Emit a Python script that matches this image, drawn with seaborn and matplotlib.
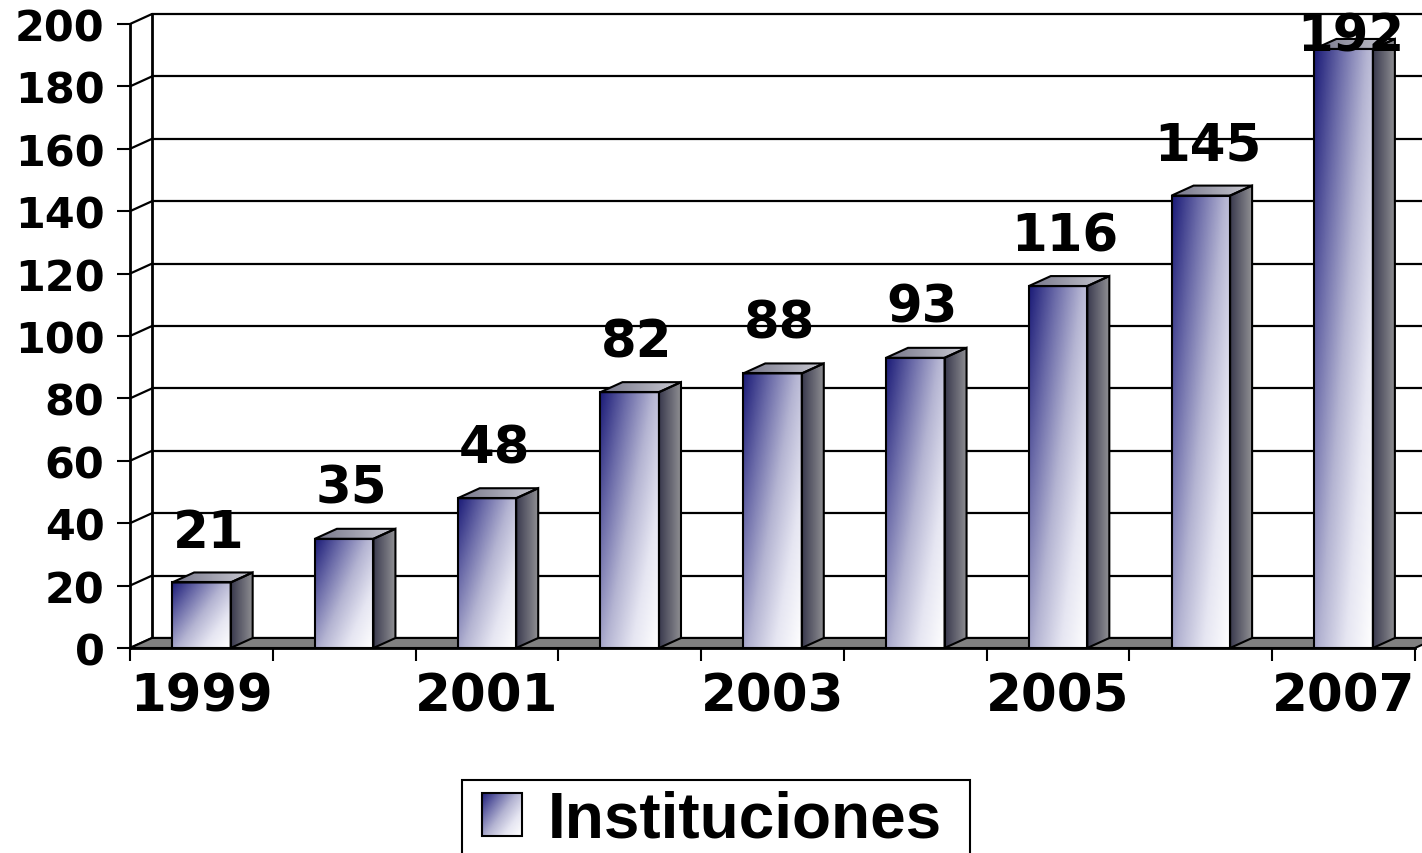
import numpy as np
import seaborn as sns
import matplotlib.pyplot as plt
from matplotlib.colors import LinearSegmentedColormap
from matplotlib.patches import Polygon, Rectangle
from matplotlib.legend_handler import HandlerBase
from matplotlib.image import BboxImage
from matplotlib.transforms import Bbox, TransformedBbox

years = ['1999', '2000', '2001', '2002', '2003', '2004', '2005', '2006', '2007']
values = [21, 35, 48, 82, 88, 93, 116, 145, 192]
shown_years = ['1999', '2001', '2003', '2005', '2007']
yticks = list(range(0, 201, 20))
series_name = 'Instituciones'

sns.set_style("white")
plt.rcParams['font.family'] = ['DejaVu Sans']
plt.rcParams['font.weight'] = 'bold'
plt.rcParams['text.color'] = 'black'
plt.rcParams['xtick.color'] = 'black'
plt.rcParams['ytick.color'] = 'black'
plt.rcParams['axes.edgecolor'] = 'black'

front_cmap = LinearSegmentedColormap.from_list(
    'front', ['#1c1c78', '#6a6aa8', '#b4b4d2', '#e6e6f2', '#ffffff'])
side_cmap = LinearSegmentedColormap.from_list('side', ['#3a3a4e', '#8e8e92'])
top_cmap = LinearSegmentedColormap.from_list('top', ['#76768a', '#cacad2'])

u, v = np.meshgrid(np.linspace(0, 1, 64), np.linspace(1, 0, 128))
front_grad = front_cmap(0.55 * u + 0.45 * (1 - v))
uu = np.linspace(0, 1, 64)[None, :].repeat(8, axis=0)
side_grad = side_cmap(uu)
top_grad = top_cmap(uu)

fig = plt.figure(figsize=(14.22, 8.54), dpi=100)
ax = fig.add_axes([130 / 1422, 205 / 854, 1285 / 1422, 624 / 854])

sns.barplot(x=years, y=values, order=years, width=0.41, ax=ax,
            color='white', edgecolor='black', linewidth=1.5, zorder=3)

ax.set_xlim(-0.5, 8.5)
ax.set_ylim(0, 200)
dx = 22 / (1285 / 9)   # depth offset in data units
dy = 10 / (624 / 200)

# back wall grid, left wall diagonals
for t in yticks:
    ax.plot([-0.5 + dx, 9.5], [t + dy, t + dy], color='black', lw=1.6,
            zorder=1, clip_on=False)
    ax.plot([-0.5, -0.5 + dx], [t, t + dy], color='black', lw=1.6,
            zorder=1, clip_on=False)
ax.plot([-0.5 + dx, -0.5 + dx], [dy, 200 + dy], color='black', lw=2,
        zorder=1, clip_on=False)

# floor
floor = Polygon([(-0.5, 0), (8.5, 0), (8.5 + dx, dy), (-0.5 + dx, dy)],
                closed=True, facecolor='#808080', edgecolor='black', lw=1.5,
                zorder=2, clip_on=False)
ax.add_patch(floor)

# bars with gradient faces
for bar, val in zip(list(ax.patches)[:len(values)], values):
    x0, w, h = bar.get_x(), bar.get_width(), bar.get_height()
    bar.set_facecolor('none')
    bar.set_zorder(5)
    im = ax.imshow(front_grad, extent=(x0, x0 + w, 0, h), aspect='auto',
                   interpolation='bilinear', zorder=4)
    im.set_clip_path(bar)
    side = Polygon([(x0 + w, 0), (x0 + w + dx, dy), (x0 + w + dx, h + dy), (x0 + w, h)],
                   closed=True, facecolor='none', edgecolor='black', lw=1.5, zorder=5)
    ax.add_patch(side)
    ims = ax.imshow(side_grad, extent=(x0 + w, x0 + w + dx, 0, h + dy), aspect='auto',
                    interpolation='bilinear', zorder=4)
    ims.set_clip_path(side)
    top = Polygon([(x0, h), (x0 + w, h), (x0 + w + dx, h + dy), (x0 + dx, h + dy)],
                  closed=True, facecolor='none', edgecolor='black', lw=1.5, zorder=5)
    ax.add_patch(top)
    imt = ax.imshow(top_grad, extent=(x0, x0 + w + dx, h, h + dy), aspect='auto',
                    interpolation='bilinear', zorder=4)
    imt.set_clip_path(top)
    ax.text(x0 + w / 2 + 0.05, min(val + 16, 196), str(val), ha='center', va='center',
            fontsize=37, fontweight='bold', color='black', zorder=6)

ax.set_xlim(-0.5, 8.5)
ax.set_ylim(0, 200)

for side_name in ['top', 'right']:
    ax.spines[side_name].set_visible(False)
ax.spines['left'].set_linewidth(2)
ax.spines['bottom'].set_linewidth(2)
ax.spines['left'].set_zorder(6)

ax.set_yticks(yticks)
ax.set_yticklabels([str(t) for t in yticks], fontsize=31, fontweight='bold')
ax.tick_params(axis='y', direction='out', length=9.4, width=1.5, pad=9, left=True)

ax.set_xticks(range(len(years)))
ax.set_xticklabels([y if y in shown_years else '' for y in years],
                   fontsize=37, fontweight='bold')
ax.tick_params(axis='x', which='major', length=0, pad=17)
ax.set_xticks(np.arange(-0.5, 9, 1), minor=True)
ax.tick_params(axis='x', which='minor', direction='out', length=9.4, width=1.5,
               bottom=True)
ax.set_xlabel('')
ax.set_ylabel('')


class GradientHandler(HandlerBase):
    def create_artists(self, legend, orig_handle, xdescent, ydescent,
                       width, height, fontsize, trans):
        bb = Bbox.from_bounds(-xdescent, -ydescent, width, height)
        img = BboxImage(TransformedBbox(bb, trans), interpolation='bilinear')
        img.set_data(front_grad)
        rect = Rectangle((-xdescent, -ydescent), width, height, facecolor='none',
                         edgecolor='black', lw=1.5, transform=trans)
        return [img, rect]


proxy = Rectangle((0, 0), 1, 1)
leg = fig.legend(handles=[proxy], labels=[series_name],
                 handler_map={proxy: GradientHandler()},
                 loc='upper center', bbox_to_anchor=(712 / 1422, 1 - 791 / 854),
                 prop={'family': 'Liberation Sans', 'weight': 'bold', 'size': 46},
                 frameon=False, borderpad=0, handlelength=0.62, handleheight=0.66,
                 handletextpad=0.4, borderaxespad=0)
for txt in leg.get_texts():
    txt.set_color('black')

# legend frame runs past the bottom edge like in the original
fig.add_artist(Rectangle((462 / 1422, -0.02), 508 / 1422, 0.02 + (854 - 781) / 854,
                         transform=fig.transFigure, fill=False,
                         edgecolor='black', lw=1.5))

fig.savefig('out.png', dpi=100)
